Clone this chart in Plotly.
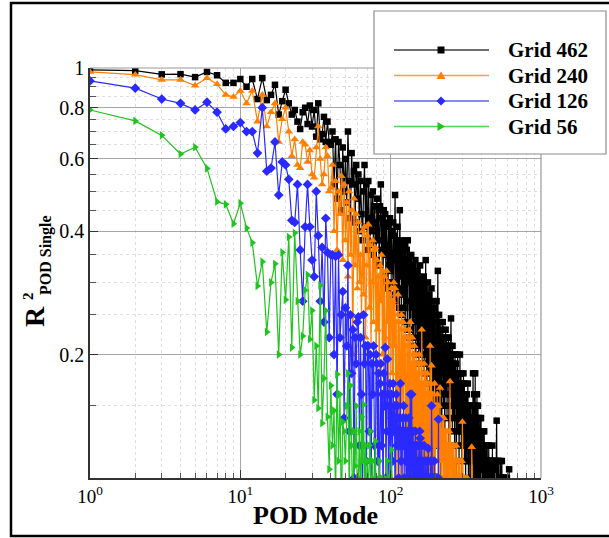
import numpy as np
import plotly.graph_objects as go

# R^2 (POD single) per POD mode
r2_grid462 = [
    0.99, 0.985, 0.965, 0.966, 0.95, 0.978, 0.96, 0.92, 0.92, 0.94,
    0.90, 0.94, 0.84, 0.945, 0.835, 0.86, 0.91, 0.77, 0.83, 0.885,
    0.82, 0.77, 0.79, 0.74, 0.71, 0.78, 0.80, 0.73, 0.81, 0.72,
    0.79, 0.68, 0.82, 0.67, 0.69, 0.76, 0.66, 0.74, 0.66, 0.65,
    0.70, 0.52, 0.67, 0.48, 0.66, 0.58, 0.45, 0.64, 0.50, 0.60,
    0.47, 0.70, 0.53, 0.43, 0.62, 0.52, 0.56, 0.42, 0.58, 0.48,
    0.55, 0.40, 0.53, 0.44, 0.38, 0.50, 0.58, 0.41, 0.52, 0.36,
    0.53, 0.43, 0.37, 0.49, 0.40, 0.50, 0.35, 0.46, 0.42, 0.34,
    0.48, 0.38, 0.45, 0.33, 0.46, 0.52, 0.36, 0.43, 0.31, 0.45,
    0.35, 0.44, 0.30, 0.42, 0.37, 0.29, 0.41, 0.33, 0.43, 0.32,
    0.40, 0.30, 0.34, 0.42, 0.28, 0.39, 0.49, 0.30, 0.38, 0.27,
    0.41, 0.29, 0.37, 0.26, 0.45, 0.31, 0.36, 0.25, 0.38, 0.28,
    0.35, 0.26, 0.34, 0.37, 0.24, 0.33, 0.27, 0.36, 0.23, 0.38,
    0.30, 0.34, 0.22, 0.33, 0.27, 0.23, 0.35, 0.26, 0.32, 0.21,
    0.28, 0.33, 0.22, 0.31, 0.25, 0.34, 0.20, 0.30, 0.24, 0.32,
    0.21, 0.29, 0.31, 0.19, 0.28, 0.23, 0.33, 0.20, 0.29, 0.22,
    0.30, 0.19, 0.28, 0.21, 0.27, 0.31, 0.18, 0.29, 0.20, 0.26,
    0.34, 0.19, 0.28, 0.17, 0.27, 0.22, 0.30, 0.18, 0.26, 0.20,
    0.28, 0.16, 0.25, 0.27, 0.18, 0.24, 0.29, 0.15, 0.26, 0.19,
    0.25, 0.14, 0.27, 0.19, 0.24, 0.16, 0.26, 0.20, 0.12, 0.25,
    0.22, 0.27, 0.15, 0.24, 0.18, 0.32, 0.14, 0.23, 0.17, 0.25,
    0.12, 0.22, 0.24, 0.15, 0.21, 0.09, 0.23, 0.16, 0.14, 0.22,
    0.19, 0.24, 0.17, 0.21, 0.15, 0.20, 0.22, 0.18, 0.09, 0.21,
    0.19, 0.23, 0.16, 0.20, 0.18, 0.22, 0.14, 0.19, 0.21, 0.17,
    0.20, 0.15, 0.22, 0.18, 0.08, 0.19, 0.21, 0.16, 0.20, 0.17,
    0.19, 0.245, 0.15, 0.20, 0.17, 0.19, 0.13, 0.21, 0.18, 0.16,
    0.20, 0.14, 0.18, 0.16, 0.19, 0.12, 0.17, 0.20, 0.15, 0.18,
    0.16, 0.19, 0.09, 0.17, 0.15, 0.18, 0.14, 0.17, 0.20, 0.13,
    0.16, 0.18, 0.15, 0.17, 0.11, 0.16, 0.18, 0.14, 0.20, 0.15,
    0.17, 0.13, 0.16, 0.18, 0.12, 0.15, 0.17, 0.08, 0.16, 0.14,
    0.17, 0.15, 0.13, 0.16, 0.18, 0.12, 0.15, 0.14, 0.17, 0.11,
    0.15, 0.16, 0.13, 0.15, 0.09, 0.14, 0.16, 0.12, 0.15, 0.13,
    0.16, 0.11, 0.14, 0.15, 0.12, 0.17, 0.13, 0.14, 0.10, 0.15,
    0.13, 0.14, 0.12, 0.15, 0.11, 0.14, 0.13, 0.08, 0.14, 0.12,
    0.15, 0.12, 0.13, 0.11, 0.14, 0.12, 0.10, 0.13, 0.15, 0.11,
    0.14, 0.12, 0.18, 0.11, 0.15, 0.10, 0.14, 0.12, 0.16, 0.13,
    0.12, 0.15, 0.10, 0.13, 0.18, 0.09, 0.14, 0.11, 0.15, 0.12,
    0.11, 0.14, 0.10, 0.12, 0.16, 0.09, 0.13, 0.11, 0.15, 0.10,
    0.15, 0.11, 0.13, 0.09, 0.14, 0.11, 0.12, 0.13, 0.08, 0.12,
    0.13, 0.10, 0.14, 0.11, 0.09, 0.13, 0.10, 0.12, 0.14, 0.09,
    0.12, 0.13, 0.10, 0.08, 0.13, 0.11, 0.09, 0.12, 0.10, 0.12,
    0.13, 0.09, 0.11, 0.12, 0.10, 0.08, 0.12, 0.10, 0.13, 0.09,
    0.11, 0.10, 0.09, 0.12, 0.10, 0.11, 0.08, 0.12, 0.10, 0.09,
    0.11, 0.10, 0.12, 0.09, 0.10, 0.11, 0.08, 0.10, 0.12, 0.09,
    0.10, 0.11, 0.09, 0.10, 0.08, 0.11, 0.10, 0.09, 0.12, 0.10,
    0.09, 0.11, 0.10, 0.08, 0.10, 0.11, 0.09, 0.10, 0.08, 0.11,
    0.10, 0.09, 0.11, 0.08, 0.10, 0.09, 0.11, 0.10, 0.08, 0.09,
    0.11, 0.09, 0.10, 0.08, 0.12, 0.09, 0.10, 0.08, 0.09, 0.11,
    0.09, 0.10, 0.08, 0.09, 0.11, 0.08, 0.10, 0.09, 0.08, 0.10,
    0.09, 0.11, 0.08, 0.09, 0.10, 0.08, 0.09, 0.11, 0.08, 0.09,
    0.10, 0.08, 0.09, 0.11, 0.08, 0.09, 0.138, 0.08, 0.10, 0.09,
    0.08, 0.10, 0.09, 0.08, 0.11, 0.09, 0.08, 0.10, 0.09, 0.08,
    0.10, 0.08, 0.09, 0.11, 0.08, 0.09, 0.10, 0.08, 0.09, 0.08,
    0.10, 0.09, 0.08, 0.10, 0.08, 0.09, 0.11, 0.08, 0.09, 0.08,
    0.09, 0.10, 0.08, 0.09, 0.08, 0.10, 0.08, 0.09, 0.11, 0.08,
    0.09, 0.08, 0.10, 0.08, 0.09, 0.08, 0.10, 0.09, 0.08, 0.09,
    0.08, 0.10, 0.08, 0.09, 0.08, 0.09, 0.10, 0.08, 0.09, 0.08,
    0.09, 0.08, 0.10, 0.08, 0.09, 0.08, 0.09, 0.08, 0.10, 0.08,
    0.09, 0.08, 0.09, 0.08, 0.10, 0.08, 0.09, 0.08, 0.09, 0.08,
    0.08, 0.09, 0.10, 0.08, 0.09, 0.08, 0.08, 0.09, 0.08, 0.09,
    0.08, 0.09, 0.08, 0.08, 0.09, 0.08, 0.09, 0.08, 0.08, 0.09,
    0.08, 0.08, 0.09, 0.105,
]

r2_grid240 = [
    0.978, 0.963, 0.936, 0.936, 0.906, 0.945, 0.913, 0.86, 0.85, 0.88,
    0.82, 0.88, 0.74, 0.86, 0.72, 0.78, 0.82, 0.66, 0.75, 0.80,
    0.70, 0.61, 0.67, 0.58, 0.57, 0.66, 0.65, 0.59, 0.63, 0.55,
    0.54, 0.64, 0.72, 0.60, 0.52, 0.55, 0.64, 0.61, 0.50, 0.51,
    0.58, 0.40, 0.53, 0.36, 0.50, 0.44, 0.545, 0.34, 0.52, 0.38,
    0.47, 0.31, 0.50, 0.35, 0.45, 0.20, 0.48, 0.33, 0.44, 0.29,
    0.42, 0.30, 0.35, 0.25, 0.40, 0.28, 0.41, 0.22, 0.33, 0.39,
    0.415, 0.26, 0.37, 0.21, 0.30, 0.38, 0.24, 0.36, 0.365, 0.19,
    0.34, 0.23, 0.31, 0.18, 0.33, 0.27, 0.35, 0.20, 0.32, 0.17,
    0.31, 0.22, 0.15, 0.32, 0.24, 0.30, 0.16, 0.28, 0.21, 0.25,
    0.29, 0.18, 0.27, 0.13, 0.30, 0.21, 0.29, 0.15, 0.24, 0.09,
    0.25, 0.28, 0.14, 0.24, 0.19, 0.08, 0.23, 0.25, 0.15, 0.18,
    0.24, 0.12, 0.22, 0.17, 0.23, 0.13, 0.08, 0.21, 0.22, 0.11,
    0.20, 0.23, 0.14, 0.21, 0.24, 0.09, 0.19, 0.13, 0.22, 0.10,
    0.20, 0.15, 0.12, 0.21, 0.08, 0.19, 0.13, 0.20, 0.10, 0.18,
    0.12, 0.19, 0.09, 0.18, 0.20, 0.11, 0.17, 0.08, 0.19, 0.13,
    0.23, 0.10, 0.18, 0.09, 0.17, 0.12, 0.19, 0.14, 0.08, 0.18,
    0.11, 0.17, 0.09, 0.16, 0.18, 0.08, 0.15, 0.17, 0.10, 0.12,
    0.16, 0.09, 0.21, 0.11, 0.17, 0.13, 0.188, 0.08, 0.15, 0.10,
    0.16, 0.08, 0.14, 0.15, 0.09, 0.17, 0.11, 0.08, 0.15, 0.12,
    0.12, 0.15, 0.13, 0.16, 0.11, 0.14, 0.12, 0.15, 0.10, 0.13,
    0.14, 0.12, 0.166, 0.11, 0.13, 0.14, 0.09, 0.12, 0.13, 0.11,
    0.14, 0.12, 0.10, 0.13, 0.11, 0.14, 0.12, 0.09, 0.13, 0.11,
    0.12, 0.13, 0.10, 0.12, 0.08, 0.11, 0.13, 0.10, 0.12, 0.11,
    0.10, 0.12, 0.11, 0.09, 0.13, 0.10, 0.12, 0.172, 0.10, 0.11,
    0.12, 0.09, 0.11, 0.10, 0.12, 0.08, 0.11, 0.10, 0.09, 0.12,
    0.10, 0.11, 0.09, 0.12, 0.10, 0.08, 0.11, 0.10, 0.09, 0.11,
    0.10, 0.09, 0.12, 0.08, 0.10, 0.11, 0.09, 0.10, 0.08, 0.11,
    0.09, 0.10, 0.08, 0.11, 0.09, 0.10, 0.08, 0.09, 0.11, 0.08,
    0.10, 0.09, 0.08, 0.10, 0.09, 0.08, 0.11, 0.09, 0.08, 0.137,
    0.09, 0.08, 0.10, 0.08, 0.09, 0.08, 0.10, 0.08, 0.09, 0.08,
    0.09, 0.10, 0.08, 0.09, 0.08, 0.09, 0.08, 0.10, 0.08, 0.09,
    0.08, 0.09, 0.08, 0.10, 0.08, 0.09, 0.08, 0.08, 0.09, 0.08,
    0.09, 0.08, 0.08, 0.09, 0.08, 0.08, 0.09, 0.08, 0.08, 0.09,
    0.08, 0.08, 0.09, 0.08, 0.08, 0.119, 0.08, 0.09, 0.08, 0.08,
    0.09, 0.08, 0.08, 0.08, 0.09, 0.08, 0.08, 0.08, 0.09, 0.08,
]

r2_grid126 = [
    0.93, 0.893, 0.84, 0.82, 0.79, 0.825, 0.78, 0.71, 0.72, 0.736,
    0.70, 0.70, 0.62, 0.80, 0.56, 0.57, 0.66, 0.49, 0.59, 0.58,
    0.535, 0.425, 0.42, 0.52, 0.36, 0.27, 0.41, 0.52, 0.41, 0.34,
    0.31, 0.50, 0.39, 0.27, 0.365, 0.24, 0.43, 0.355, 0.22, 0.35,
    0.35, 0.20, 0.347, 0.16, 0.35, 0.22, 0.25, 0.285, 0.14, 0.26,
    0.21, 0.33, 0.13, 0.25, 0.18, 0.23, 0.10, 0.22, 0.19, 0.24,
    0.247, 0.12, 0.22, 0.16, 0.09, 0.25, 0.19, 0.21, 0.11, 0.21,
    0.21, 0.13, 0.20, 0.08, 0.19, 0.16, 0.21, 0.12, 0.09, 0.20,
    0.19, 0.11, 0.18, 0.08, 0.17, 0.19, 0.12, 0.16, 0.08, 0.18,
    0.15, 0.208, 0.10, 0.13, 0.195, 0.16, 0.08, 0.15, 0.17, 0.09,
    0.16, 0.14, 0.11, 0.17, 0.13, 0.15, 0.08, 0.14, 0.16, 0.12,
    0.15, 0.13, 0.10, 0.14, 0.12, 0.17, 0.11, 0.13, 0.09, 0.14,
    0.12, 0.15, 0.10, 0.13, 0.11, 0.14, 0.08, 0.12, 0.13, 0.10,
    0.12, 0.14, 0.09, 0.11, 0.16, 0.10, 0.12, 0.16, 0.09, 0.11,
    0.13, 0.10, 0.12, 0.08, 0.11, 0.13, 0.09, 0.12, 0.10, 0.11,
    0.09, 0.12, 0.10, 0.11, 0.08, 0.13, 0.125, 0.09, 0.11, 0.10,
    0.12, 0.09, 0.10, 0.11, 0.08, 0.10, 0.12, 0.09, 0.10, 0.08,
    0.11, 0.09, 0.10, 0.08, 0.11, 0.09, 0.10, 0.118, 0.08, 0.09,
    0.10, 0.08, 0.09, 0.11, 0.08, 0.09, 0.15, 0.08, 0.10, 0.09,
    0.08, 0.10, 0.09, 0.08, 0.11, 0.09, 0.08, 0.10, 0.08, 0.09,
    0.08, 0.10, 0.09, 0.08, 0.09, 0.08, 0.10, 0.139, 0.08, 0.09,
]

r2_grid56 = [
    0.79, 0.743, 0.685, 0.617, 0.641, 0.569, 0.472, 0.465, 0.417, 0.468,
    0.407, 0.375, 0.294, 0.337, 0.227, 0.30, 0.333, 0.20, 0.355, 0.272,
    0.387, 0.208, 0.396, 0.27, 0.20, 0.222, 0.287, 0.313, 0.218, 0.256,
    0.155, 0.21, 0.148, 0.295, 0.136, 0.175, 0.256, 0.141, 0.105, 0.168,
    0.12, 0.146, 0.09, 0.179, 0.11, 0.16, 0.08, 0.137, 0.13, 0.11,
    0.15, 0.18, 0.09, 0.168, 0.12, 0.08, 0.13, 0.107, 0.15, 0.09,
    0.10, 0.13, 0.08, 0.141, 0.11, 0.151, 0.09, 0.12, 0.08, 0.11,
    0.09, 0.12, 0.13, 0.08, 0.10, 0.11, 0.08, 0.09, 0.123, 0.08,
    0.10, 0.08, 0.09, 0.11, 0.08, 0.09, 0.10, 0.08, 0.09, 0.08,
    0.10, 0.08, 0.09, 0.08, 0.11, 0.08, 0.09, 0.08, 0.10, 0.08,
    0.117, 0.08, 0.09, 0.08, 0.08,
]

series_names = ["Grid 462", "Grid 240", "Grid 126", "Grid 56"]
series_values = [r2_grid462, r2_grid240, r2_grid126, r2_grid56]
series_colors = ["#000000", "#ff8000", "#2a2aff", "#1fc41f"]
series_symbols = ["square", "triangle-up", "diamond", "triangle-right"]
series_sizes = [6.5, 7.5, 7.5, 7.5]

x_tickvals = [1, 10, 100, 1000]
x_ticktext = ["10<sup>0</sup>", "10<sup>1</sup>", "10<sup>2</sup>", "10<sup>3</sup>"]
x_minor = [m * 10 ** d for d in range(3) for m in range(2, 10)]
y_tickvals = [0.2, 0.4, 0.6, 0.8, 1.0]
y_ticktext = ["0.2", "0.4", "0.6", "0.8", "1"]
y_minor = [0.15, 0.25, 0.3, 0.35, 0.45, 0.5, 0.55, 0.65, 0.7, 0.75, 0.85, 0.9, 0.95]

SERIF = "Liberation Serif, Times New Roman, serif"

# plot area in pixels: x 90..541, y 68..478
L, R, T, B = 90, 541, 68, 478
W, H = 609, 538
def px(xp):
    return (xp - L) / (R - L)
def py(yp):
    return (B - yp) / (B - T)

fig = go.Figure()
for name, vals, col, sym, sz in zip(series_names, series_values, series_colors,
                                     series_symbols, series_sizes):
    modes = np.arange(1, len(vals) + 1)
    fig.add_trace(go.Scatter(
        x=modes, y=vals, mode="lines+markers", name=name,
        line=dict(color=col, width=1.2),
        marker=dict(symbol=sym, size=sz, color=col, line=dict(width=0)),
    ))

shapes = []
# outer frame of the picture
shapes.append(dict(type="rect", xref="paper", yref="paper",
                   x0=px(11), x1=px(615), y0=py(536), y1=py(3),
                   line=dict(color="black", width=2.5), fillcolor="rgba(0,0,0,0)",
                   layer="above"))
# top and right frame of the plot area
shapes.append(dict(type="line", xref="paper", yref="paper", x0=0, x1=1, y0=1, y1=1,
                   line=dict(color="#9a9a9a", width=1.2), layer="above"))
shapes.append(dict(type="line", xref="paper", yref="paper", x0=1, x1=1, y0=0, y1=1,
                   line=dict(color="#9a9a9a", width=1.2), layer="above"))
# legend box
shapes.append(dict(type="rect", xref="paper", yref="paper",
                   x0=px(374), x1=px(606), y0=py(154), y1=py(11),
                   line=dict(color="#8c8c8c", width=1.2), fillcolor="white",
                   layer="above"))

marker_paths = {
    "square": "M-3.5,-3.5 L3.5,-3.5 L3.5,3.5 L-3.5,3.5 Z",
    "triangle-up": "M0,4 L4.5,-3.5 L-4.5,-3.5 Z",
    "diamond": "M0,4.5 L4.5,0 L0,-4.5 L-4.5,0 Z",
    "triangle-right": "M4,0 L-3.5,4.5 L-3.5,-4.5 Z",
}
legend_rows = [50, 75.5, 101, 126.5]
annotations = []
for name, col, sym, ry in zip(series_names, series_colors, series_symbols, legend_rows):
    shapes.append(dict(type="line", xref="paper", yref="paper",
                       x0=px(394), x1=px(489), y0=py(ry), y1=py(ry),
                       line=dict(color=col, width=1.3), opacity=0.75, layer="above"))
    shapes.append(dict(type="path", xref="paper", yref="paper",
                       xsizemode="pixel", ysizemode="pixel",
                       xanchor=px(441), yanchor=py(ry),
                       path=marker_paths[sym], fillcolor=col,
                       line=dict(width=0), layer="above"))
    annotations.append(dict(text="<b>" + name + "</b>", xref="paper", yref="paper",
                            x=px(506), y=py(ry), xanchor="left", yanchor="middle",
                            showarrow=False,
                            font=dict(family=SERIF, size=21, color="black")))

# axis titles
annotations.append(dict(text="<b>POD Mode</b>", xref="paper", yref="paper",
                        x=px(315.5), y=py(515), xanchor="center", yanchor="middle",
                        showarrow=False, font=dict(family=SERIF, size=26, color="black")))
annotations.append(dict(text="<b>R</b>", xref="paper", yref="paper",
                        x=px(34), y=py(317), xanchor="center", yanchor="middle",
                        textangle=-90, showarrow=False,
                        font=dict(family=SERIF, size=28, color="black")))
annotations.append(dict(text="<b>2</b>", xref="paper", yref="paper",
                        x=px(28), y=py(296), xanchor="center", yanchor="middle",
                        textangle=-90, showarrow=False,
                        font=dict(family=SERIF, size=15, color="black")))
annotations.append(dict(text="<b>POD Single</b>", xref="paper", yref="paper",
                        x=px(46), y=py(255), xanchor="center", yanchor="middle",
                        textangle=-90, showarrow=False,
                        font=dict(family=SERIF, size=16, color="black")))

axis_common = dict(
    type="log", tickmode="array", ticks="inside", ticklen=8, tickwidth=1.2,
    tickcolor="#333333", showline=True, linecolor="#333333", linewidth=1.5,
    showgrid=True, gridcolor="#a6a6a6", gridwidth=1, zeroline=False,
)

fig.update_layout(
    width=W, height=538, showlegend=False,
    margin=dict(l=L, r=W - R, t=T, b=538 - B, pad=0),
    paper_bgcolor="white", plot_bgcolor="white",
    xaxis=dict(axis_common, range=[0, 3], tickvals=x_tickvals, ticktext=x_ticktext,
               tickfont=dict(family=SERIF, size=19, color="black"),
               minor=dict(tickmode="array", tickvals=x_minor, ticks="inside",
                          ticklen=5, tickcolor="#555555", showgrid=True,
                          gridcolor="#dedede", griddash="dot", gridwidth=1)),
    yaxis=dict(axis_common, range=[-1, 0], tickvals=y_tickvals, ticktext=y_ticktext,
               tickfont=dict(family=SERIF, size=20, color="black"),
               minor=dict(tickmode="array", tickvals=y_minor, ticks="inside",
                          ticklen=6, tickcolor="#555555", showgrid=True,
                          gridcolor="#dedede", griddash="dot", gridwidth=1)),
    shapes=shapes, annotations=annotations,
)

fig.write_html("out.html")
